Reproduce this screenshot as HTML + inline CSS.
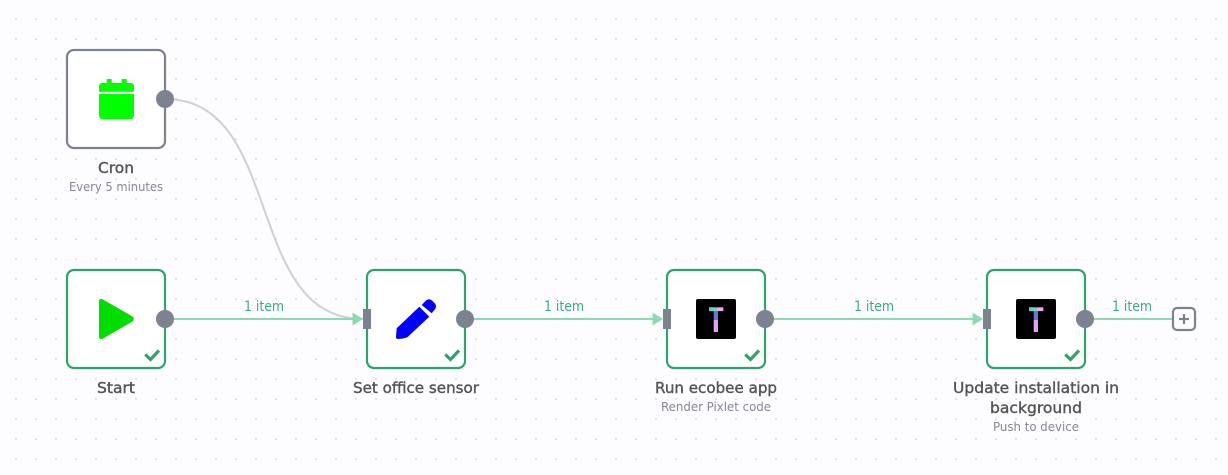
<!DOCTYPE html>
<html><head><meta charset="utf-8"><style>
html,body{margin:0;padding:0;width:1228px;height:475px;overflow:hidden;background:#fdfdff}
svg{display:block}
text{font-family:"DejaVu Sans","Liberation Sans",sans-serif;text-anchor:middle}
.t{font-size:15px;fill:#555;stroke:#555;stroke-width:.4px}
.s{font-size:12.5px;fill:#858793}
.i{font-size:14.5px;fill:#35b07a}
</style></head><body>
<svg width="1228" height="475" viewBox="0 0 1228 475" xmlns="http://www.w3.org/2000/svg">
<defs>
<pattern id="d" x="15" y="18" width="20" height="20" patternUnits="userSpaceOnUse"><rect width="2" height="2" fill="#e3e3e9"/></pattern>
</defs>
<rect width="1228" height="475" fill="#fdfdff"/>
<rect width="1228" height="475" fill="url(#d)"/>

<path d="M165 99C285 99 243 319 363 319" fill="none" stroke="#cfcfd6" stroke-width="2"/>
<g stroke="#8bdbb0" stroke-width="2">
<path d="M165 319H355M465 319H655M765 319H975M1085 319H1173"/>
</g>
<g fill="#8bdbb0">
<path d="M352.500 312.500L363 319L352.500 325.500Z"/>
<path d="M652.500 312.500L663 319L652.500 325.500Z"/>
<path d="M972.500 312.500L983 319L972.500 325.500Z"/>
</g>

<g fill="#fff" stroke-width="2.200">
<rect x="67" y="50" width="98" height="98" rx="7" stroke="#7d8291"/>
<g stroke="#2ba46e">
<rect x="67" y="270" width="98" height="98" rx="7"/>
<rect x="367" y="270" width="98" height="98" rx="7"/>
<rect x="667" y="270" width="98" height="98" rx="7"/>
<rect x="987" y="270" width="98" height="98" rx="7"/>
</g>
</g>

<g fill="#7d8291">
<circle cx="165" cy="99" r="9"/><circle cx="165" cy="319" r="9"/><circle cx="465" cy="319" r="9"/><circle cx="765" cy="319" r="9"/><circle cx="1085" cy="319" r="9"/>
<rect x="363" y="309" width="8" height="20"/><rect x="663" y="309" width="8" height="20"/><rect x="983" y="309" width="8" height="20"/>
</g>

<!-- calendar -->
<g fill="#00ff00">
<rect x="106.700" y="79" width="5" height="8"/><rect x="121.700" y="79" width="5" height="8"/>
<path d="M99 91.700V86.500Q99 83 102.500 83H130.500Q134 83 134 86.500V91.700Z"/>
<path d="M99 94H134V115Q134 119.300 129.700 119.300H103.300Q99 119.300 99 115Z"/>
</g>

<!-- play -->
<path d="M99 302Q99 297.500 103 299.500L132.500 316.500Q135 319 132.500 321.500L103 338.500Q99 340.500 99 336Z" fill="#00dd00"/>

<!-- pencil -->
<g fill="#0000ff">
<path d="M396.700 328.300L419.300 306.700L429.300 316.700L407.300 337.300Q406 338 403 338.500L398 339Q396 339 396 337Z"/>
<path d="M421.700 305L426 300.500Q429 298 432 300.500L435 303.500Q437 306.500 435 309.300L431.700 313.300Z"/>
</g>

<!-- tidbyt icons -->
<g>
<rect x="696" y="299" width="40" height="40" rx="2" fill="#000"/>
<rect x="709" y="307.300" width="8" height="3.800" fill="#5fdcc0"/>
<rect x="717" y="307.300" width="6.300" height="3.800" fill="#f5a8e8"/>
<rect x="713.700" y="311" width="4.300" height="9" fill="#6a75e0"/>
<rect x="713.700" y="320" width="4.300" height="12" fill="#d9a5f0"/>
</g>
<g>
<rect x="1016" y="299" width="40" height="40" rx="2" fill="#000"/>
<rect x="1029" y="307.300" width="8" height="3.800" fill="#5fdcc0"/>
<rect x="1037" y="307.300" width="6.300" height="3.800" fill="#f5a8e8"/>
<rect x="1033.700" y="311" width="4.300" height="9" fill="#6a75e0"/>
<rect x="1033.700" y="320" width="4.300" height="12" fill="#d9a5f0"/>
</g>

<!-- checks -->
<g fill="none" stroke="#2ba46e" stroke-width="3.200">
<path d="M145.300 354.500L150.500 359.500L159 350.500"/>
<path d="M445.300 354.500L450.500 359.500L459 350.500"/>
<path d="M745.300 354.500L750.500 359.500L759 350.500"/>
<path d="M1065.300 354.500L1070.500 359.500L1079 350.500"/>
</g>

<!-- plus -->
<rect x="1173" y="308" width="22" height="22" rx="4" fill="#fff" stroke="#7d8291" stroke-width="2.200"/>
<path d="M1179 319H1189M1184 314V324" stroke="#7d8291" stroke-width="2.200" fill="none"/>

<!-- labels -->
<text class="t" x="116" y="173" textLength="36" lengthAdjust="spacingAndGlyphs">Cron</text>
<text class="s" x="116" y="191" textLength="94" lengthAdjust="spacingAndGlyphs">Every 5 minutes</text>
<text class="t" x="116" y="393" textLength="38" lengthAdjust="spacingAndGlyphs">Start</text>
<text class="t" x="416" y="393" textLength="126" lengthAdjust="spacingAndGlyphs">Set office sensor</text>
<text class="t" x="716" y="393" textLength="122" lengthAdjust="spacingAndGlyphs">Run ecobee app</text>
<text class="s" x="716" y="411" textLength="110" lengthAdjust="spacingAndGlyphs">Render Pixlet code</text>
<text class="t" x="1036" y="393" textLength="166" lengthAdjust="spacingAndGlyphs">Update installation in</text>
<text class="t" x="1036" y="413" textLength="92" lengthAdjust="spacingAndGlyphs">background</text>
<text class="s" x="1036" y="431" textLength="86" lengthAdjust="spacingAndGlyphs">Push to device</text>

<text class="i" x="264" y="311" textLength="40" lengthAdjust="spacingAndGlyphs">1 item</text>
<text class="i" x="564" y="311" textLength="40" lengthAdjust="spacingAndGlyphs">1 item</text>
<text class="i" x="874" y="311" textLength="40" lengthAdjust="spacingAndGlyphs">1 item</text>
<text class="i" x="1132" y="311" textLength="40" lengthAdjust="spacingAndGlyphs">1 item</text>
</svg>
</body></html>
